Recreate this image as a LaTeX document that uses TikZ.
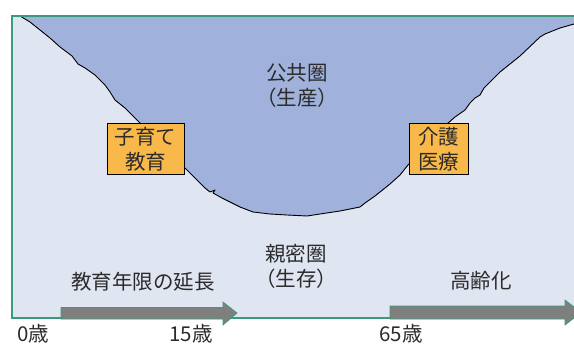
\documentclass[tikz,border=0pt]{standalone}
\usepackage{fontspec}
\newfontfamily\jp{Noto Sans CJK JP}
\definecolor{upperfill}{HTML}{A0B1DC}
\definecolor{lowerfill}{HTML}{E0E5F2}
\definecolor{framegreen}{HTML}{3A9A7A}
\definecolor{boxorange}{HTML}{F9B84A}
\definecolor{arrowgray}{HTML}{7F7F7F}
\definecolor{txt}{HTML}{2B2B2B}
\tikzset{
  lbl/.style={font=\jp\fontsize{20.5}{25}\selectfont, text=txt, inner sep=0pt, align=center},
  tagbox/.style={lbl, fill=boxorange, draw=black, line width=1pt, minimum width=77pt, minimum height=51pt},
  agearrow/.style={fill=arrowgray, draw=framegreen, line width=0.7pt},
}
\begin{document}
\begin{tikzpicture}[x=1pt,y=-1pt]
\useasboundingbox (0,0) rectangle (574,345);
\begin{scope}
\clip (0,0) rectangle (574,345);
% lower region
\fill[lowerfill] (12,16) rectangle (590,318);
% upper region
\fill[upperfill] (12,16) -- (20,16) -- (30,22) -- (40,30) -- (50,38) -- (60,47) -- (72,56) -- (78,64) -- (85,68) -- (95,75) -- (105,85) -- (110,92) -- (115,100) -- (125,108) -- (140,123) -- (160,143) -- (185,168) -- (195,178) -- (205,188) -- (210,192) -- (215,190) -- (213,193) -- (222,198) -- (230,202) -- (240,207) -- (253,212) -- (270,214) -- (287,215) -- (307,216) -- (320,214) -- (340,211) -- (360,207) -- (365,203) -- (375,196) -- (390,184) -- (400,175) -- (408,165) -- (430,145) -- (447,124) -- (455,117) -- (465,110) -- (470,103) -- (475,98) -- (480,95) -- (484,88) -- (500,72) -- (520,56) -- (540,37) -- (545,34) -- (560,28) -- (574,24) -- (590,22) -- (590,16) -- cycle;
\draw[black, line width=0.9pt, line join=round] (20,16) -- (30,22) -- (40,30) -- (50,38) -- (60,47) -- (72,56) -- (78,64) -- (85,68) -- (95,75) -- (105,85) -- (110,92) -- (115,100) -- (125,108) -- (140,123) -- (160,143) -- (185,168) -- (195,178) -- (205,188) -- (210,192) -- (215,190) -- (213,193) -- (222,198) -- (230,202) -- (240,207) -- (253,212) -- (270,214) -- (287,215) -- (307,216) -- (320,214) -- (340,211) -- (360,207) -- (365,203) -- (375,196) -- (390,184) -- (400,175) -- (408,165) -- (430,145) -- (447,124) -- (455,117) -- (465,110) -- (470,103) -- (475,98) -- (480,95) -- (484,88) -- (500,72) -- (520,56) -- (540,37) -- (545,34) -- (560,28) -- (574,24) -- (590,22);
% frame
\draw[framegreen, line width=1.3pt] (590,16) -- (12,16) -- (12,318) -- (590,318);
% arrows
\draw[agearrow] (61,307.5) -- (223,307.5) -- (223,302) -- (237,313) -- (223,325) -- (223,319) -- (61,319) -- cycle;
\draw[agearrow] (390,306) -- (565,306) -- (565,300) -- (581,312.5) -- (565,325) -- (565,319) -- (390,319) -- cycle;
\end{scope}
% labels
\node[lbl] (public) at (297,85) {公共圏\\（生産）};
\node[lbl] (private) at (296,266) {親密圏\\（生存）};
\node[tagbox] (care1) at (145.5,149.5) {子育て\\教育};
\node[tagbox, minimum width=59pt] (care2) at (438.5,149.5) {介護\\医療};
\node[lbl] (edu) at (143,282) {教育年限の延長};
\node[lbl] (aging) at (481,281) {高齢化};
\node[lbl] (a0) at (33,334) {0歳};
\node[lbl] (a15) at (191,334) {15歳};
\node[lbl] (a65) at (401,334) {65歳};
\end{tikzpicture}
\end{document}
